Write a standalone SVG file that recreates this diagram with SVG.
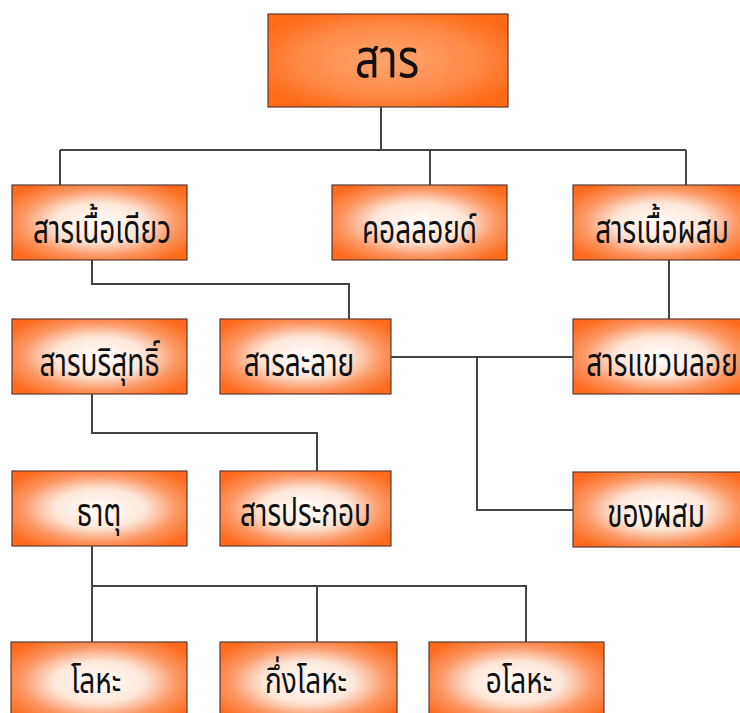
<svg xmlns="http://www.w3.org/2000/svg" width="740" height="713" viewBox="0 0 740 713">
<style>
.box{fill:url(#g);stroke:#5a3a32;stroke-width:1.2}
.top{fill:url(#gt);stroke:#5a3a32;stroke-width:1.2}
.t{font-family:"Noto Sans Thai","Loma","Tahoma","DejaVu Sans",sans-serif;font-size:28px;fill:#111;text-anchor:middle}
.tt{font-size:44px}
.c{fill:none;stroke:#444;stroke-width:2}
</style>
<defs>
<radialGradient id="g" cx="0.5" cy="0.5" r="0.62">
<stop offset="0" stop-color="#ffffff"/>
<stop offset="0.42" stop-color="#fde6d8"/>
<stop offset="0.72" stop-color="#fb9662"/>
<stop offset="1" stop-color="#ff6a1c"/>
</radialGradient>
<radialGradient id="gt" cx="0.5" cy="0.5" r="0.6">
<stop offset="0" stop-color="#ffa470"/>
<stop offset="0.6" stop-color="#ff8a48"/>
<stop offset="1" stop-color="#ff6a14"/>
</radialGradient>
</defs>
<g id="connectors">
<path class="c" d="M381 107V150M60 150H686M60 150V185M430 150V185M686 150V185"/>
<path class="c" d="M92 260V284H349V319"/>
<path class="c" d="M669 260V319"/>
<path class="c" d="M391 357H573M477 357V510H573"/>
<path class="c" d="M92 394V433H317V471"/>
<path class="c" d="M92 546V586H526V642M317 586V642M92 586V642"/>
</g>
<g id="n-sarn"><rect class="top" x="268" y="14" width="240" height="93"/><text class="t tt" transform="translate(387 77) scale(1 1.2)">สาร</text></g>
<g id="n-homo"><rect class="box" x="12" y="185" width="175" height="75"/><text class="t" transform="translate(102 243) scale(1 1.4)">สารเนื้อเดียว</text></g>
<g id="n-colloid"><rect class="box" x="332" y="185" width="175" height="75"/><text class="t" transform="translate(419.500 243) scale(1 1.4)">คอลลอยด์</text></g>
<g id="n-hetero"><rect class="box" x="573" y="185" width="175" height="75"/><text class="t" transform="translate(662 243) scale(1 1.4)">สารเนื้อผสม</text></g>
<g id="n-pure"><rect class="box" x="12" y="319" width="175" height="75"/><text class="t" transform="translate(99.500 376) scale(1 1.4)">สารบริสุทธิ์</text></g>
<g id="n-solution"><rect class="box" x="220" y="319" width="171" height="75"/><text class="t" transform="translate(299 376) scale(1 1.4)">สารละลาย</text></g>
<g id="n-suspension"><rect class="box" x="573" y="319" width="175" height="75"/><text class="t" transform="translate(662 376) scale(1 1.4)">สารแขวนลอย</text></g>
<g id="n-element"><rect class="box" x="12" y="471" width="175" height="75"/><text class="t" transform="translate(99 526) scale(1 1.4)">ธาตุ</text></g>
<g id="n-compound"><rect class="box" x="220" y="471" width="171" height="75"/><text class="t" transform="translate(305.500 526) scale(1 1.4)">สารประกอบ</text></g>
<g id="n-mixture"><rect class="box" x="573" y="472" width="175" height="75"/><text class="t" transform="translate(656 527) scale(1 1.4)">ของผสม</text></g>
<g id="n-metal"><rect class="box" x="11" y="642" width="176" height="80"/><text class="t" transform="translate(96 693) scale(1 1.3)">โลหะ</text></g>
<g id="n-metalloid"><rect class="box" x="220" y="642" width="177" height="80"/><text class="t" transform="translate(306 693) scale(1 1.3)">กึ่งโลหะ</text></g>
<g id="n-nonmetal"><rect class="box" x="429" y="642" width="175" height="80"/><text class="t" transform="translate(519 693) scale(1 1.3)">อโลหะ</text></g>
</svg>
